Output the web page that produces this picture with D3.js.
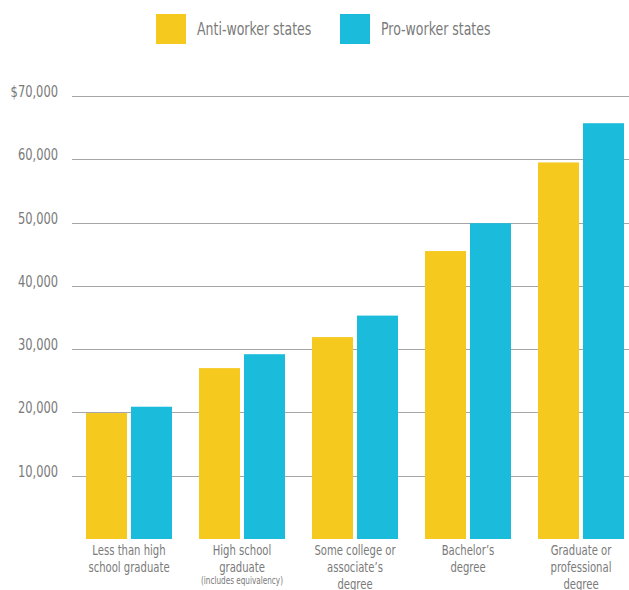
<!DOCTYPE html>
<html>
<head>
<meta charset="utf-8">
<script src="https://cdn.jsdelivr.net/npm/d3@7"></script>
<style>
  body { margin: 0; background: #fff; }
  svg text { font-family: "DejaVu Sans Condensed", "Liberation Sans Narrow", sans-serif; fill: #7a7a7a; }
</style>
</head>
<body>
<div id="chart"></div>
<script>
// education levels, median earnings
const categories = [
  ["Less than high", "school graduate"],
  ["High school", "graduate"],
  ["Some college or", "associate\u2019s", "degree"],
  ["Bachelor\u2019s", "degree"],
  ["Graduate or", "professional", "degree"]
];
const subNotes = ["", "(includes  equivalency)", "", "", ""];
const antiWorker = [19900, 27000, 31900, 45500, 59500];
const proWorker = [20900, 29200, 35300, 49900, 65700];
const seriesNames = ["Anti-worker states", "Pro-worker states"];
const yTicks = [10000, 20000, 30000, 40000, 50000, 60000, 70000];

const width = 629, height = 590;
const colors = ["#f5c91e", "#1abbdb"];

const svg = d3.select("#chart").append("svg")
  .attr("width", width)
  .attr("height", height);

const y = d3.scaleLinear().domain([0, 70000]).range([539, 96]);

const x0 = d3.scaleBand()
  .domain(d3.range(categories.length))
  .range([86, 624])
  .paddingInner(27 / 113)
  .paddingOuter(0);
const x1 = d3.scaleBand().domain([0, 1]).range([0, x0.bandwidth()]).paddingInner(4 / 45);

// condensed text: squeeze the glyphs horizontally
function addText(g, x, yy, str, size, sx, anchor) {
  return g.append("text")
    .attr("transform", "translate(" + x + "," + yy + ") scale(" + sx + ",1)")
    .attr("text-anchor", anchor || "start")
    .style("font-size", size + "px")
    .text(str);
}

// gridlines
const grid = svg.append("g");
grid.selectAll("line")
  .data(yTicks)
  .enter().append("line")
  .attr("x1", 72)
  .attr("x2", width)
  .attr("y1", d => Math.round(y(d)) + 0.5)
  .attr("y2", d => Math.round(y(d)) + 0.5)
  .attr("stroke", "#a6a6a6")
  .attr("stroke-width", 1);

yTicks.forEach(d => {
  addText(grid, 58, y(d) + 1, (d === 70000 ? "$" : "") + d3.format(",")(d), 15, 0.85, "end");
});

// bars
const groups = svg.append("g").selectAll("g")
  .data(categories.map((c, i) => [antiWorker[i], proWorker[i]]))
  .enter().append("g")
  .attr("transform", (d, i) => "translate(" + x0(i) + ",0)");

groups.selectAll("rect")
  .data(d => d)
  .enter().append("rect")
  .attr("x", (d, j) => x1(j))
  .attr("width", x1.bandwidth())
  .attr("y", d => y(d))
  .attr("height", d => y(0) - y(d))
  .attr("fill", (d, j) => colors[j]);

// category labels
const labels = svg.append("g");
categories.forEach((lines, i) => {
  const cx = x0(i) + x0.bandwidth() / 2;
  lines.forEach((t, k) => {
    addText(labels, cx, 555 + k * 17, t, 14, 0.8, "middle");
  });
  if (subNotes[i]) {
    addText(labels, cx, 584, subNotes[i], 10, 0.81, "middle");
  }
});

// legend
const legend = svg.append("g");
const legX = [156, 340];
seriesNames.forEach((name, i) => {
  legend.append("rect")
    .attr("x", legX[i])
    .attr("y", 14)
    .attr("width", 30)
    .attr("height", 30)
    .attr("fill", colors[i]);
  addText(legend, legX[i] + 41, 35, name, 17, 0.82);
});
</script>
</body>
</html>
